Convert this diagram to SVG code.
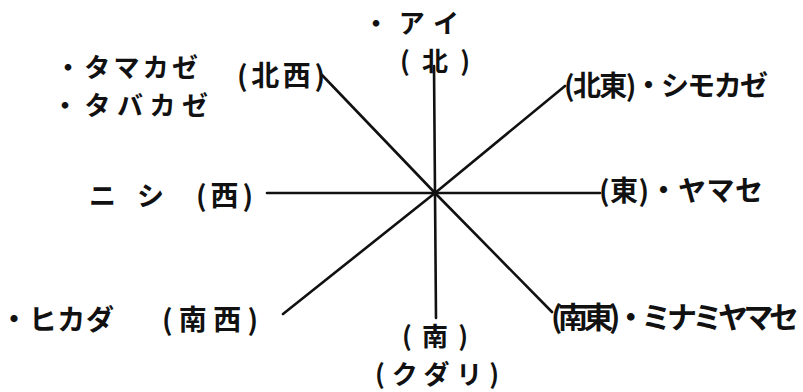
<svg xmlns="http://www.w3.org/2000/svg" width="803" height="392" viewBox="0 0 803 392">
  <style>
    .t { font-family: "Noto Sans CJK JP", "Noto Sans", sans-serif; font-weight: 700; font-size: 27px; fill: #111; }
    .l { font-size: 30px; }
    .m { font-size: 28px; }
    .s { font-size: 26px; }
    .ray { stroke: #111; stroke-width: 2.6; stroke-linecap: round; fill: none; }
  </style>
  <rect x="0" y="0" width="803" height="392" fill="#ffffff"/>
  <g id="connectors">
    <line class="ray" x1="435" y1="193" x2="434" y2="66"/>
    <line class="ray" x1="435" y1="193" x2="436" y2="318"/>
    <line class="ray" x1="435" y1="193" x2="267" y2="193"/>
    <line class="ray" x1="435" y1="193" x2="600" y2="193"/>
    <line class="ray" x1="435" y1="193" x2="565" y2="86"/>
    <line class="ray" x1="435" y1="193" x2="322" y2="75"/>
    <line class="ray" x1="435" y1="193" x2="283" y2="314"/>
    <line class="ray" x1="435" y1="193" x2="552" y2="312"/>
  </g>
  <g id="north">
    <text class="t s" x="363" y="33" textLength="96" lengthAdjust="spacing">・アイ</text>
    <text class="t s" x="400" y="71" textLength="70" lengthAdjust="spacing">(北)</text>
  </g>
  <g id="northwest">
    <text class="t s" x="55" y="77" textLength="143" lengthAdjust="spacing">・タマカゼ</text>
    <text class="t s" x="52" y="115" textLength="156" lengthAdjust="spacing">・タバカゼ</text>
    <text class="t m" x="237" y="86" textLength="88" lengthAdjust="spacing">(北西)</text>
  </g>
  <g id="northeast">
    <text class="t m" x="564" y="96" textLength="204" lengthAdjust="spacing">(北東)・シモカゼ</text>
  </g>
  <g id="west">
    <text class="t" x="89" y="206" textLength="75" lengthAdjust="spacing">ニシ</text>
    <text class="t m" x="196" y="206" textLength="57" lengthAdjust="spacing">(西)</text>
  </g>
  <g id="east">
    <text class="t m" x="599" y="201" textLength="164" lengthAdjust="spacing">(東)・ヤマセ</text>
  </g>
  <g id="southwest">
    <text class="t m" x="0" y="330" textLength="114" lengthAdjust="spacing">・ヒカダ</text>
    <text class="t m" x="162" y="330" textLength="96" lengthAdjust="spacing">(南西)</text>
  </g>
  <g id="southeast">
    <text class="t l" x="551" y="328" textLength="248" lengthAdjust="spacing">(南東)・ミナミヤマセ</text>
  </g>
  <g id="south">
    <text class="t s" x="402" y="346" textLength="66" lengthAdjust="spacing">(南)</text>
    <text class="t s" x="375" y="384" textLength="124" lengthAdjust="spacing">(クダリ)</text>
  </g>
</svg>
